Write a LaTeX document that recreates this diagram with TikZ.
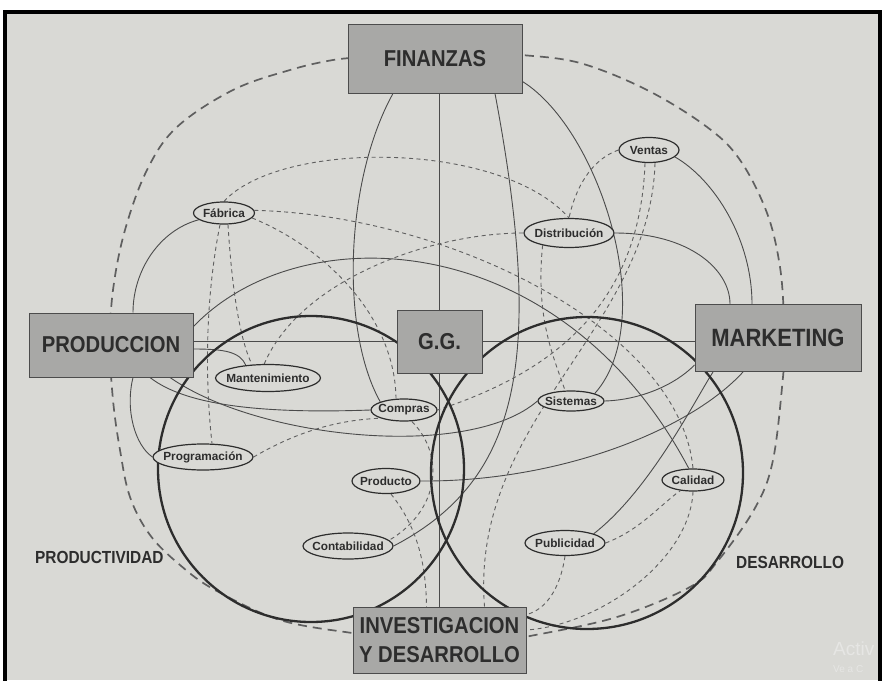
\documentclass[tikz,border=0pt]{standalone}
\usepackage{fontspec}
\setmainfont{Liberation Sans}
\newfontfamily\condfont[FakeStretch=0.88]{Liberation Sans}
\usetikzlibrary{shapes.geometric}

\definecolor{paper}{RGB}{217,217,213}
\definecolor{boxfill}{RGB}{168,168,166}
\definecolor{ink}{RGB}{45,45,45}
\definecolor{wire}{RGB}{75,75,75}
\definecolor{wiredash}{RGB}{95,95,95}
\definecolor{ghost}{RGB}{230,230,228}

% label text of zero width, so the ellipse size comes from minimum width/height
\newcommand\lbltxt[1]{\makebox[0pt]{#1}}

\pgfdeclarelayer{paperlayer}
\pgfdeclarelayer{wirelayer}
\pgfsetlayers{paperlayer,wirelayer,main}

\tikzset{
  area/.style={rectangle, draw=ink!85, line width=1pt, fill=boxfill, text=ink,
    inner sep=0pt, align=center, font=\condfont\bfseries\fontsize{23}{29}\selectfont},
  tag/.style={ellipse, draw=ink, line width=1.2pt, fill=paper, text=ink,
    inner sep=0pt, font=\bfseries\fontsize{11.8}{13}\selectfont},
  link/.style={draw=wire, line width=0.9pt},
  dlink/.style={draw=wiredash, line width=0.9pt, dash pattern=on 4pt off 3.5pt},
  ring/.style={draw=wiredash, line width=1.7pt, dash pattern=on 9pt off 6pt},
  lens/.style={draw=ink, line width=2.3pt},
  side/.style={text=ink, inner sep=0pt, font=\condfont\bfseries\fontsize{17.5}{20}\selectfont}
}

\begin{document}
\begin{tikzpicture}[x=1pt,y=-1pt]
\useasboundingbox (0,0) rectangle (883,680);

\begin{pgfonlayer}{paperlayer}
  \fill[white] (0,0) rectangle (883,680);
  \fill[paper] (5,12) rectangle (880,680);
  \node[anchor=base west, text=ghost, inner sep=0pt, font=\fontsize{19}{22}\selectfont] (wm1) at (833,655) {Activ};
  \node[anchor=base west, text=ghost, inner sep=0pt, font=\fontsize{10}{12}\selectfont] (wm2) at (833,672) {Ve a C};
\end{pgfonlayer}

% main areas
\node[area, minimum width=174pt, minimum height=69pt] (fin) at (435,58.5) {FINANZAS};
\node[area, minimum width=164pt, minimum height=64pt] (prod) at (111,345) {PRODUCCION};
\node[area, minimum width=85pt, minimum height=63pt] (gg) at (439.5,341.5) {G.G.};
\node[area, minimum width=166pt, minimum height=67pt,
      font=\condfont\bfseries\fontsize{25}{29}\selectfont] (mkt) at (778,338) {MARKETING};
\node[area, minimum width=173pt, minimum height=66pt] (inv) at (439.5,640) {INVESTIGACION\\Y DESARROLLO};

% functions
\node[tag, minimum width=61pt,  minimum height=22pt] (fab) at (224,213) {\lbltxt{Fábrica}};
\node[tag, minimum width=60pt,  minimum height=25pt] (ven) at (649,150) {\lbltxt{Ventas}};
\node[tag, minimum width=90pt,  minimum height=29pt] (dis) at (569,233) {\lbltxt{Distribución}};
\node[tag, minimum width=105pt, minimum height=27pt] (man) at (268,378) {\lbltxt{Mantenimiento}};
\node[tag, minimum width=66pt,  minimum height=22pt] (com) at (404,410) {\lbltxt{Compras}};
\node[tag, minimum width=66pt,  minimum height=20pt] (sis) at (571,401) {\lbltxt{Sistemas}};
\node[tag, minimum width=100pt, minimum height=26pt] (pro) at (203,457) {\lbltxt{Programación}};
\node[tag, minimum width=68pt,  minimum height=25pt] (pdt) at (386,481) {\lbltxt{Producto}};
\node[tag, minimum width=62pt,  minimum height=22pt] (cal) at (693,480) {\lbltxt{Calidad}};
\node[tag, minimum width=90pt,  minimum height=26pt] (con) at (348,546) {\lbltxt{Contabilidad}};
\node[tag, minimum width=80pt,  minimum height=25pt] (pub) at (565,543) {\lbltxt{Publicidad}};

\node[side, anchor=west] (pdv) at (35,557) {PRODUCTIVIDAD};
\node[side, anchor=west] (des) at (736,562) {DESARROLLO};

\begin{pgfonlayer}{wirelayer}
  % outer dashed ring
  \draw[ring] plot[smooth, tension=0.6] coordinates {
    (365,57) (333,60) (290,70) (233,90) (177,127) (147,170) (125,230) (113,290)
    (110,345) (113,400) (120,450) (130,497) (150,535) (180,565) (215,590)
    (280,620) (352,633) (365,634)};
  \draw[ring] plot[smooth, tension=0.6] coordinates {
    (510,55) (522,55) (580,63) (647,90) (707,127) (740,160) (767,213) (780,267)
    (784,320) (784,350) (783,377) (773,460) (755,508) (717,562) (690,587)
    (617,617) (530,636) (515,637)};

  % solid links
  \draw[link] ([xshift=-42pt]fin.south) .. controls (345,180) and (340,330) .. (com.north west);
  \draw[link] (gg.north) -- (gg.north |- fin.south);
  \draw[link] ([xshift=60pt]fin.south) .. controls (545,360) and (520,480) .. (con.east);
  \draw[link] ([yshift=12pt]fin.south east) .. controls (600,130) and (660,320) .. (sis.north east);
  \draw[link] (ven.-15) .. controls (715,180) and (752,240) .. ([xshift=-26pt]mkt.north);
  \draw[link] (dis.east) .. controls (690,233) and (730,270) .. ([xshift=-48pt]mkt.north);
  \draw[link] (fab.195) .. controls (160,230) and (133,270) .. ([xshift=22pt]prod.north);
  \draw[link] ([yshift=-14pt]prod.north east) .. controls (300,215) and (560,225) .. (cal.110);
  \draw[link] ([xshift=39pt]prod.south) .. controls (185,405) and (260,414) .. (com.west);
  \draw[link] ([xshift=59pt]prod.south) .. controls (260,440) and (470,460) .. (sis.west);
  \draw[link] ([yshift=-4pt]prod.east) .. controls (225,349) and (240,352) .. (man.150);
  \draw[link] ([xshift=22pt]prod.south) .. controls (125,410) and (135,445) .. (pro.west);
  \draw[link] (sis.east) .. controls (640,400) and (675,385) .. ([yshift=7pt]mkt.south west);
  \draw[link] (pdt.east) .. controls (560,482) and (690,430) .. ([xshift=-35pt]mkt.south);
  \draw[link] (pub.north east) .. controls (650,490) and (695,400) .. ([xshift=-65pt]mkt.south);
  \draw[link] (prod.east |- gg.west) -- (gg.west);
  \draw[link] (gg.east) -- (gg.east -| mkt.west);
  \draw[link] (gg.south) -- (gg.south |- inv.north);

  % dashed links
  \draw[dlink] (fab.north) .. controls (280,140) and (500,140) .. (dis.north);
  \draw[dlink] (fab.5) .. controls (450,215) and (680,330) .. (cal.north);
  \draw[dlink] ([xshift=-4pt]fab.south) .. controls (205,300) and (205,380) .. ([xshift=9pt]pro.north);
  \draw[dlink] ([xshift=4pt]fab.south) .. controls (232,290) and (240,340) .. (man.140);
  \draw[dlink] (fab.-10) .. controls (330,250) and (395,320) .. ([xshift=-8pt]com.north);
  \draw[dlink] (ven.west) .. controls (590,160) and (575,190) .. (dis.north);
  \draw[dlink] ([xshift=-4pt]ven.south) .. controls (640,300) and (560,370) .. (com.east);
  \draw[dlink] ([xshift=6pt]ven.south) .. controls (650,330) and (470,420) .. ([xshift=45pt]inv.north);
  \draw[dlink] (dis.-155) .. controls (535,320) and (555,360) .. ([xshift=-6pt]sis.north);
  \draw[dlink] (man.105) .. controls (300,280) and (430,233) .. (dis.west);
  \draw[dlink] (pro.east) .. controls (300,430) and (340,420) .. (com.south west);
  \draw[dlink] ([xshift=8pt]com.south) .. controls (445,455) and (440,510) .. (con.8);
  \draw[dlink] ([xshift=5pt]pdt.south) .. controls (420,530) and (426,570) .. ([xshift=-13pt]inv.north);
  \draw[dlink] (pub.east) .. controls (640,530) and (660,505) .. (cal.-140);
  \draw[dlink] (pub.south) .. controls (560,590) and (545,610) .. ([yshift=-8pt]inv.north east);
  \draw[dlink] (cal.south) .. controls (690,560) and (600,625) .. ([yshift=10pt]inv.east);

  % overlapping circles
  \coordinate (lcen) at (311,469);
  \coordinate (rcen) at (587,473);
  \draw[lens] (lcen) circle[radius=153];
  \draw[lens] (rcen) circle[radius=156];
\end{pgfonlayer}

% frame
\draw[line width=4pt, black] (5,690) -- (5,12) -- (880,12) -- (880,690);
\end{tikzpicture}
\end{document}
